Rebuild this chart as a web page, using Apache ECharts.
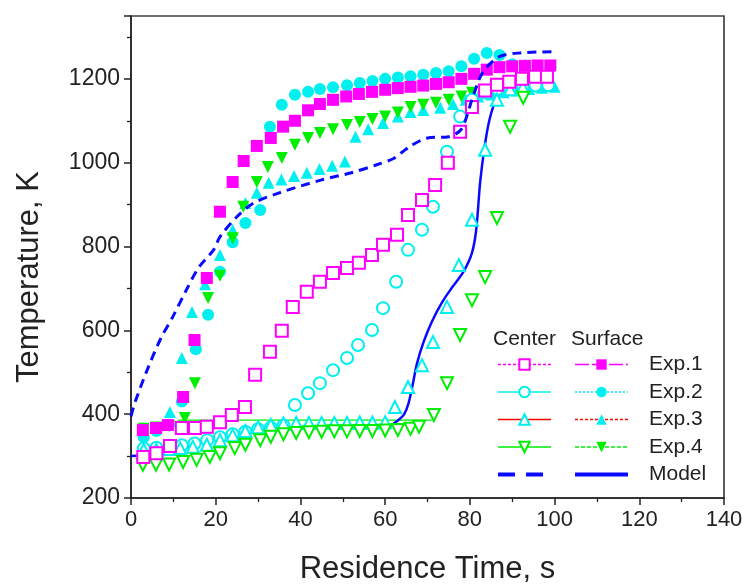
<!DOCTYPE html>
<html>
<head>
<meta charset="utf-8">
<script src="https://cdn.jsdelivr.net/npm/echarts@6/dist/echarts.min.js"></script>
<style>html,body{margin:0;padding:0;background:#fff}#c{width:745px;height:586px}</style>
</head>
<body>
<div id="c"></div>
<script>
// ---- data (time in s, temperature in K) ----
const exp1CenterT = [2.9,6,9.2,12,15.1,17.9,21,23.8,26.9,29.3,32.8,35.6,38.2,41.5,44.6,47.7,51,53.8,56.9,59.5,62.8,65.4,68.7,71.8,74.8,77.7,80.5,83.6,86.4,89.3,92.3,95.4,98.2];
const exp1CenterK = [298,307,324,367,367,370,381,398,417,494,549,599,656,692,716,737,749,761,780,804,828,875,911,947,1000,1074,1133,1172,1186,1193,1200,1205,1205];
const exp1SurfT = [2.8,5.9,8.7,12.3,15,17.9,21,24,26.6,29.7,33,35.9,38.7,41.8,44.6,47.7,50.8,53.8,56.9,60,63,66,69,72,75,78,81,84,87,90,93,96,99];
const exp1SurfK = [362,367,374,441,577,725,883,954,1004,1040,1059,1086,1100,1125,1140,1150,1158,1164,1169,1174,1178,1181,1184,1188,1192,1200,1212,1222,1228,1230,1231,1232,1232];
const exp2CenterT = [3,6,9,12,15,18,21,24,27,30,33,36,38.7,41.8,44.6,47.7,51,53.6,56.9,59.5,62.6,65.4,68.7,71.3,74.6,77.7,80.5,83.5,86.5,89.5,92.5,95.5,98.5];
const exp2CenterK = [318,320,322,326,330,338,345,352,358,364,368,373,422,450,474,505,534,565,601,653,716,792,840,895,1026,1110,1150,1168,1176,1180,1182,1184,1185];
const exp2SurfT = [3,6,9,12,15.3,18.2,21,24,27,30.5,32.8,35.6,38.7,41.8,44.6,47.7,51,54,57,60,63,66,69,72,75,78,81,84,87,90,93,96,99];
const exp2SurfK = [345,360,375,430,555,637,740,810,856,887,1086,1138,1162,1169,1176,1180,1185,1190,1195,1200,1203,1206,1210,1214,1218,1230,1248,1262,1257,1235,1232,1230,1228];
const exp3CenterT = [3,6,9,11.6,14.6,17.9,21,24,27,30,33,36,39,42,45,48,51,54,57,60,62.3,65.4,68.7,71.3,74.6,77.4,80.5,83.6,86.4,89.5,92.5];
const exp3CenterK = [315,315,317,319,322,327,338,350,360,369,374,378,379,379,379,379,379,380,380,381,417,465,517,572,656,756,864,1031,1150,1175,1180];
const exp3SurfT = [9.2,12,14.4,17.5,21,24,27,29.7,32.5,35.5,38.5,41.5,44.5,47.5,50.5,53,56,59.5,63,66,69,73,76,79,82,85,88,91,94,97,100];
const exp3SurfK = [405,534,644,710,780,840,904,928,952,960,968,976,985,993,1003,1062,1080,1095,1110,1121,1126,1131,1140,1150,1158,1163,1168,1172,1176,1179,1181];
const exp4CenterT = [2.8,5.9,9,12.3,15.5,18.6,21,24.5,27,30.5,33,36,39,42,45,48,51,54,57,60,63,66,68,71.5,74.6,77.7,80.5,83.6,86.4,89.5,92.6];
const exp4CenterK = [279,279,280,286,291,298,307,319,327,338,346,352,355,357,358,359,359,360,360,361,362,365,370,398,474,589,672,727,868,1086,1155];
const exp4SurfT = [3,6,9,12.7,15.1,18.2,21,24,26.5,29.7,32.3,35.6,38.7,41.8,44.6,47.7,51,54,57,60,63,66,69,72,75,78,80.5];
const exp4SurfK = [365,368,372,391,474,677,730,820,895,954,990,1011,1043,1059,1071,1080,1090,1097,1104,1110,1120,1133,1138,1143,1150,1158,1167];
const modelCenterT = [0,1,4,7,10,13,16,19.5,21,25,29,35,45,52,58,62,64,66,70,75,78,80.5,83,87,92,100];
const modelCenterK = [395,430,510,580,635,695,750,792,823,871,904,928,959,976,995,1010,1025,1040,1059,1062,1080,1150,1215,1253,1262,1265];
const modelSurfT = [0,5,10,13,16,20,25,30,40,50,58,61,63,64.5,65.5,66.5,67.5,69,71,73.5,76,78.5,80.5,81.5,82.5,84,85.5,87,90,95,100];
const modelSurfK = [300,303,310,320,332,345,355,362,366,367,367,372,385,400,425,470,520,570,620,668,705,740,785,840,960,1071,1133,1160,1175,1180,1183];
const guideT = [11,71];
const guideK = [386,386];

const xTicks = {min:0, max:140, interval:20};
const yTicks = {min:200, max:1350, interval:200};

const legendRows = ['Exp.1','Exp.2','Exp.3','Exp.4','Model'];

function pts(t,k){ return t.map((v,i)=>[v,k[i]]); }

const FONT = 'Liberation Sans, Arial, sans-serif';
const MAG = '#ff00ff', CYAN = '#00f0f0', GREEN = '#00ee00', BLUE = '#0a0aff', RED = '#ff0000';

function expSeries(name, data, symbol, color, rotate){
  return {
    name, type:'line', data, symbol, symbolSize: 12, symbolRotate: rotate||0,
    showAllSymbol: true, showSymbol: true,
    lineStyle:{width:0, opacity:0}, itemStyle:{color, borderWidth: symbol.indexOf('empty')===0 ? 1.6 : 0},
    silent:true, animation:false, z: 3
  };
}

const series = [
  expSeries('Exp.2 surface', pts(exp2SurfT, exp2SurfK), 'circle', CYAN),
  expSeries('Exp.3 surface', pts(exp3SurfT, exp3SurfK), 'triangle', CYAN),
  expSeries('Exp.4 surface', pts(exp4SurfT, exp4SurfK), 'triangle', GREEN, 180),
  expSeries('Exp.1 surface', pts(exp1SurfT, exp1SurfK), 'rect', MAG),
  expSeries('Exp.2 center', pts(exp2CenterT, exp2CenterK), 'emptyCircle', CYAN),
  expSeries('Exp.3 center', pts(exp3CenterT, exp3CenterK), 'emptyTriangle', CYAN),
  expSeries('Exp.4 center', pts(exp4CenterT, exp4CenterK), 'emptyTriangle', GREEN, 180),
  expSeries('Exp.1 center', pts(exp1CenterT, exp1CenterK), 'emptyRect', MAG),
  {name:'guide', type:'line', data: pts(guideT, guideK), symbol:'none', lineStyle:{color:GREEN, width:1.3}, silent:true, animation:false, z:2},
  {name:'Model center', type:'line', data: pts(modelCenterT, modelCenterK), symbol:'none', smooth:0.3,
    lineStyle:{color:BLUE, width:3, type:[9,6]}, itemStyle:{color:BLUE}, silent:true, animation:false, z:4},
  {name:'Model surface', type:'line', data: pts(modelSurfT, modelSurfK), symbol:'none', smooth:0.3,
    lineStyle:{color:BLUE, width:2.5}, itemStyle:{color:BLUE}, silent:true, animation:false, z:2}
];

const centerLegend = [
  {name:'Exp.1 center', lineStyle:{color:MAG, width:1.3, type:[3,2], opacity:1}},
  {name:'Exp.2 center', lineStyle:{color:CYAN, width:1.3, type:'solid', opacity:1}},
  {name:'Exp.3 center', lineStyle:{color:RED, width:1.3, type:'solid', opacity:1}},
  {name:'Exp.4 center', lineStyle:{color:GREEN, width:1.3, type:'solid', opacity:1}},
  {name:'Model center', lineStyle:{color:BLUE, width:4, type:[17,11], opacity:1}, itemStyle:{opacity:0}}
];
const surfLegend = [
  {name:'Exp.1 surface', lineStyle:{color:MAG, width:1.3, type:[14,3], opacity:1}},
  {name:'Exp.2 surface', lineStyle:{color:CYAN, width:1.3, type:[2,2], opacity:1}},
  {name:'Exp.3 surface', lineStyle:{color:RED, width:1.3, type:[3,2], opacity:1}},
  {name:'Exp.4 surface', lineStyle:{color:GREEN, width:1.3, type:[4,2], opacity:1}},
  {name:'Model surface', lineStyle:{color:BLUE, width:4, type:'solid', opacity:1}, itemStyle:{opacity:0}}
];

const legendBase = {
  orient:'vertical', top: 349, itemWidth: 53, itemHeight: 13, itemGap: 6.5,
  selectedMode:false, inactiveColor:'#fff',
  textStyle:{fontFamily:FONT, fontSize:21, color:'#222'}
};

const chart = echarts.init(document.getElementById('c'), null, {renderer:'canvas'});
chart.setOption({
  animation:false,
  backgroundColor:'#fff',
  title:[
    {text:'Center', left:488, top:324, textStyle:{fontFamily:FONT, fontSize:21, fontWeight:'normal', color:'#222'}},
    {text:'Surface', left:566, top:324, textStyle:{fontFamily:FONT, fontSize:21, fontWeight:'normal', color:'#222'}}
  ],
  legend:[
    Object.assign({}, legendBase, {left:491, data:centerLegend, formatter:()=>' '}),
    Object.assign({}, legendBase, {left:568, data:surfLegend,
      formatter:(n)=>legendRows[['Exp.1 surface','Exp.2 surface','Exp.3 surface','Exp.4 surface','Model surface'].indexOf(n)],
      textStyle:Object.assign({}, legendBase.textStyle, {padding:[0,0,0,16]})})
  ],
  grid:{left:131, right:21, top:16, bottom:88, show:true, borderColor:'#444', borderWidth:1.7,
    backgroundColor:'transparent', containLabel:false, outerBoundsMode:'none'},
  xAxis:{
    type:'value', min:xTicks.min, max:xTicks.max, interval:xTicks.interval,
    name:'Residence Time, s', nameLocation:'middle', nameGap:56,
    nameTextStyle:{fontFamily:FONT, fontSize:31, color:'#222'},
    axisLine:{show:true, lineStyle:{color:'#222', width:1.5}},
    axisTick:{show:true, inside:false, length:7, lineStyle:{color:'#222', width:1.5}},
    minorTick:{show:true, splitNumber:2, length:4, lineStyle:{color:'#222', width:1.3}},
    splitLine:{show:false},
    axisLabel:{fontFamily:FONT, fontSize:22, color:'#222', margin:11, formatter:(v)=>String(v)}
  },
  yAxis:{
    type:'value', min:yTicks.min, max:yTicks.max, interval:yTicks.interval,
    name:'Temperature, K', nameLocation:'middle', nameGap:86,
    nameTextStyle:{fontFamily:FONT, fontSize:31, color:'#222', padding:[0,40,0,0]},
    axisLine:{show:true, lineStyle:{color:'#222', width:1.5}},
    axisTick:{show:true, inside:false, length:7, lineStyle:{color:'#222', width:1.5}},
    minorTick:{show:true, splitNumber:2, length:4, lineStyle:{color:'#222', width:1.3}},
    splitLine:{show:false},
    axisLabel:{fontFamily:FONT, fontSize:23, color:'#222', margin:11, showMaxLabel:false,
      formatter:(v)=> (v % yTicks.interval === 0 ? String(v) : '')}
  },
  series
});
</script>
</body>
</html>
